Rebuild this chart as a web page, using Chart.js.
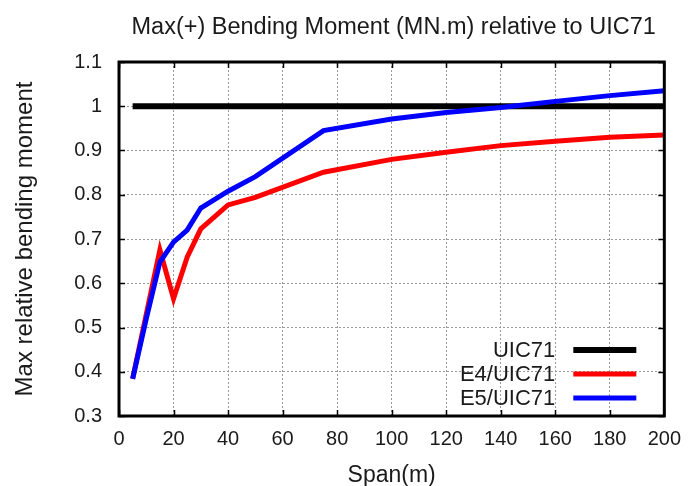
<!DOCTYPE html>
<html lang="en">
<head>
    <meta charset="UTF-8">
    <title>Max(+) Bending Moment relative to UIC71</title>
    <script src="https://cdn.jsdelivr.net/npm/chart.js@4.4.0/dist/chart.umd.min.js"></script>
    <style>
        html, body {
            margin: 0;
            padding: 0;
            background: #fff;
        }
        #wrap {
            width: 692px;
            height: 486px;
        }
    </style>
</head>
<body>
<div id="wrap"><canvas id="chart" width="692" height="486"></canvas></div>

<script>
    // span (m)
    const spans = [5, 10, 15, 20, 25, 30, 40, 50, 75, 100, 120, 140, 160, 180, 200];
    // ratios
    const uic71 = [1, 1, 1, 1, 1, 1, 1, 1, 1, 1, 1, 1, 1, 1, 1];
    const e4 = [0.384, 0.53, 0.675, 0.565, 0.659, 0.723, 0.777, 0.794, 0.851, 0.88, 0.896, 0.911, 0.921, 0.93, 0.935];
    const e5 = [0.384, 0.52, 0.648, 0.693, 0.72, 0.77, 0.808, 0.841, 0.945, 0.971, 0.986, 0.997, 1.011, 1.024, 1.035];

    const seriesNames = ['UIC71', 'E4/UIC71', 'E5/UIC71'];
    const seriesColors = ['#000000', '#ff0000', '#0000ff'];
    const seriesWidths = [6, 5, 5];

    const chartTitle = 'Max(+) Bending Moment (MN.m) relative to UIC71';
    const textColor = '#1a1a1a';
    const fontFamily = "'Liberation Sans', Arial, sans-serif";

    function toPoints(values) {
        return spans.map((s, i) => ({x: s, y: values[i]}));
    }

    const allSeries = [uic71, e4, e5];
    const datasets = allSeries.map((vals, i) => ({
        label: seriesNames[i],
        data: toPoints(vals),
        borderColor: seriesColors[i],
        backgroundColor: seriesColors[i],
        borderWidth: seriesWidths[i],
        pointRadius: 0,
        tension: 0,
        fill: false,
        order: 3 - i, // blue on top, black at the bottom
    }));

    // frame + inward ticks on all four sides, like gnuplot
    const framePlugin = {
        id: 'frame',
        afterDraw(chart) {
            const {ctx, chartArea: a, scales} = chart;
            ctx.save();
            ctx.strokeStyle = '#000';
            ctx.lineWidth = 1.5;
            const tl = 6;
            ctx.beginPath();
            scales.x.ticks.forEach(t => {
                const px = Math.round(scales.x.getPixelForValue(t.value)) + 0.5;
                ctx.moveTo(px, a.bottom); ctx.lineTo(px, a.bottom - tl);
                ctx.moveTo(px, a.top); ctx.lineTo(px, a.top + tl);
            });
            scales.y.ticks.forEach(t => {
                const py = Math.round(scales.y.getPixelForValue(t.value)) + 0.5;
                ctx.moveTo(a.left, py); ctx.lineTo(a.left + tl, py);
                ctx.moveTo(a.right, py); ctx.lineTo(a.right - tl, py);
            });
            ctx.stroke();
            ctx.lineWidth = 3;
            ctx.strokeRect(a.left, a.top, a.right - a.left, a.bottom - a.top);

            // title centred over the plot box, not the canvas
            ctx.font = '23.5px ' + fontFamily;
            ctx.fillStyle = textColor;
            ctx.textAlign = 'center';
            ctx.textBaseline = 'alphabetic';
            ctx.fillText(chartTitle, (a.left + a.right) / 2 + 2, 34);
            ctx.restore();
        }
    };

    // legend inside the plot, bottom right, text before the sample line
    const legendPlugin = {
        id: 'boxLegend',
        afterDraw(chart) {
            const {ctx, chartArea: a} = chart;
            ctx.save();
            ctx.font = '22px ' + fontFamily;
            ctx.fillStyle = textColor;
            ctx.textAlign = 'right';
            ctx.textBaseline = 'middle';
            const textRight = a.right - 109;
            const lineX0 = a.right - 91;
            const lineX1 = a.right - 28;
            const rowH = 24;
            const y0 = a.bottom - 66;
            chart.data.datasets.forEach((ds, i) => {
                const y = y0 + i * rowH;
                ctx.fillText(ds.label, textRight, y + 1);
                ctx.strokeStyle = ds.borderColor;
                ctx.lineWidth = ds.borderWidth;
                ctx.beginPath();
                ctx.moveTo(lineX0, y);
                ctx.lineTo(lineX1, y);
                ctx.stroke();
            });
            ctx.restore();
        }
    };

    const ctx = document.getElementById('chart').getContext('2d');
    new Chart(ctx, {
        type: 'line',
        data: {datasets: datasets},
        plugins: [framePlugin, legendPlugin],
        options: {
            responsive: false,
            animation: false,
            layout: {
                padding: {left: 0, right: 26, top: 62, bottom: 0}
            },
            scales: {
                x: {
                    type: 'linear',
                    min: 0,
                    max: 200,
                    ticks: {
                        stepSize: 20,
                        color: textColor,
                        padding: 11,
                        font: {family: fontFamily, size: 20},
                        maxRotation: 0,
                    },
                    grid: {
                        color: '#9a9a9a',
                        lineWidth: 1,
                        drawTicks: false,
                    },
                    border: {display: false, dash: [2, 2]},
                    title: {
                        display: true,
                        text: 'Span(m)',
                        color: textColor,
                        font: {family: fontFamily, size: 23},
                        padding: {top: 0, bottom: -3},
                    },
                    afterFit(scale) {
                        scale.height = 70;
                    },
                },
                y: {
                    min: 0.3,
                    max: 1.1,
                    ticks: {
                        stepSize: 0.1,
                        color: textColor,
                        padding: 17,
                        font: {family: fontFamily, size: 20},
                        callback: v => String(Number(v.toFixed(1))),
                    },
                    grid: {
                        color: '#9a9a9a',
                        lineWidth: 1,
                        drawTicks: false,
                    },
                    border: {display: false, dash: [2, 2]},
                    title: {
                        display: true,
                        text: 'Max relative bending moment',
                        color: textColor,
                        font: {family: fontFamily, size: 24},
                        padding: {top: 11, bottom: 0},
                    },
                    afterFit(scale) {
                        scale.width = 119;
                    },
                },
            },
            plugins: {
                legend: {display: false},
                tooltip: {enabled: false},
                title: {display: false},
            },
        },
    });
</script>
</body>
</html>
